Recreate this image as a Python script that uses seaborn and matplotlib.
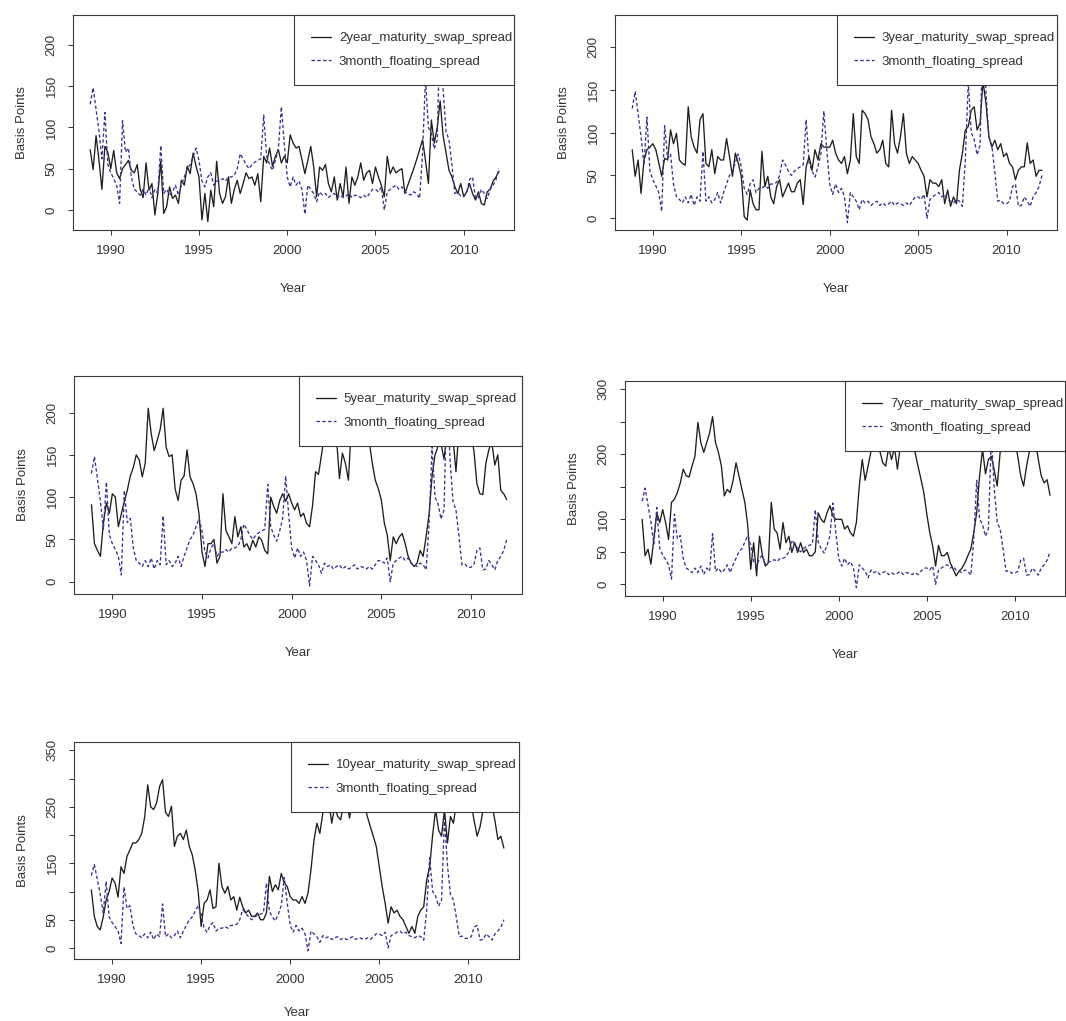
import numpy as np
import pandas as pd
import seaborn as sns
import matplotlib.pyplot as plt

# --- data: bimonthly observations, Nov 1988 .. Jan 2012 (basis points) ---
START = '1988-11-01'

floating_3m = [
    128,                                  # 1988
    148, 122, 95, 62, 118, 55,            # 1989
    45, 38, 30, 8, 108, 70,               # 1990
    75, 40, 25, 22, 18, 25,               # 1991
    18, 28, 15, 25, 20, 78,               # 1992
    20, 25, 18, 22, 30, 18,               # 1993
    30, 40, 50, 55, 65, 75,               # 1994
    60, 35, 28, 40, 45, 30,               # 1995
    35, 35, 38, 35, 40, 40,               # 1996
    42, 50, 68, 62, 55, 50,               # 1997
    55, 58, 60, 62, 115, 65,              # 1998
    55, 48, 60, 75, 125, 80,              # 1999
    40, 28, 40, 30, 35, 25,               # 2000
    -5, 30, 25, 20, 10, 22,               # 2001
    18, 20, 15, 18, 20, 15,               # 2002
    18, 15, 17, 20, 15, 18,               # 2003
    17, 15, 18, 15, 20, 25,               # 2004
    25, 22, 28, 0, 22, 25,                # 2005
    28, 30, 25, 28, 22, 20,               # 2006
    18, 22, 20, 14, 68, 160,              # 2007
    100, 92, 74, 85, 230, 146,            # 2008
    95, 85, 54, 20, 21, 17,               # 2009
    17, 20, 37, 40, 14, 15,               # 2010
    25, 20, 14, 25, 30, 37,               # 2011
    50,                                   # 2012
]

swap_2y = [
    73,
    49, 90, 60, 25, 77, 70,
    50, 72, 45, 38, 50, 55,
    60, 48, 45, 55, 25, 15,
    57, 24, 32, -6, 20, 59,
    -4, 4, 28, 14, 18, 8,
    36, 30, 53, 44, 69, 53,
    40, -12, 20, -14, 24, 4,
    59, 20, 8, 16, 40, 8,
    25, 36, 20, 32, 45, 38,
    40, 30, 44, 10, 65, 57,
    75, 53, 65, 73, 57, 65,
    57, 91, 81, 75, 77, 61,
    44, 60, 77, 52, 16, 52,
    48, 55, 32, 22, 40, 12,
    32, 16, 52, 8, 40, 30,
    40, 57, 36, 45, 48, 32,
    52, 40, 30, 16, 65, 44,
    52, 45, 48, 50, 20, 30,
    40, 50, 61, 73, 85, 60,
    32, 109, 81, 100, 132, 90,
    69, 48, 40, 28, 20, 32,
    16, 22, 32, 20, 12, 22,
    8, 6, 22, 25, 35, 40,
    47,
]

swap_3y = [
    80,
    49, 68, 29, 68, 80, 83,
    87, 80, 65, 49, 70, 68,
    103, 87, 99, 68, 64, 62,
    130, 95, 83, 76, 115, 122,
    64, 60, 80, 52, 72, 68,
    68, 93, 72, 49, 76, 64,
    49, 2, -2, 33, 17, 10,
    10, 78, 37, 49, 25, 17,
    37, 45, 25, 33, 41, 31,
    31, 41, 45, 16, 60, 72,
    56, 80, 68, 87, 83, 83,
    83, 91, 76, 68, 64, 72,
    52, 68, 122, 72, 64, 126,
    122, 115, 95, 87, 76, 80,
    91, 64, 60, 126, 87, 76,
    95, 122, 76, 64, 72, 68,
    64, 56, 49, 25, 45, 41,
    41, 37, 45, 17, 33, 14,
    25, 17, 56, 76, 103, 107,
    126, 130, 103, 111, 160, 134,
    95, 83, 91, 80, 87, 72,
    76, 64, 60, 45, 56, 60,
    60, 88, 64, 68, 49, 56,
    56,
]

swap_5y = [
    91,
    45, 37, 30, 70, 93, 81,
    104, 100, 65, 80, 95, 108,
    125, 135, 150, 144, 124, 140,
    205, 175, 155, 167, 180, 205,
    159, 148, 150, 110, 96, 120,
    125, 156, 124, 116, 104, 80,
    35, 18, 45, 45, 50, 22,
    30, 104, 61, 53, 45, 77,
    53, 65, 41, 45, 37, 49,
    41, 53, 49, 37, 33, 100,
    89, 81, 96, 104, 95, 104,
    93, 85, 93, 77, 81, 69,
    65, 90, 130, 127, 150, 175,
    185, 175, 180, 170, 122, 152,
    140, 120, 185, 180, 190, 175,
    185, 190, 165, 140, 120, 110,
    97, 70, 55, 25, 53, 45,
    53, 57, 45, 30, 22, 18,
    22, 37, 30, 53, 80, 125,
    150, 160, 163, 145, 175, 170,
    170, 130, 180, 190, 185, 175,
    175, 155, 116, 104, 103, 140,
    156, 165, 138, 150, 108, 104,
    97,
]

swap_7y = [
    100,
    44, 54, 31, 70, 110, 95,
    115, 95, 69, 126, 131, 141,
    156, 177, 167, 165, 182, 197,
    249, 218, 203, 218, 233, 258,
    218, 203, 182, 136, 146, 141,
    160, 187, 167, 146, 126, 90,
    23, 64, 13, 74, 44, 28,
    33, 126, 85, 79, 54, 95,
    64, 74, 49, 64, 49, 64,
    49, 54, 44, 44, 50, 110,
    100, 95, 110, 121, 105, 100,
    100, 100, 85, 90, 79, 74,
    95, 151, 192, 160, 182, 205,
    215, 210, 205, 187, 182, 210,
    192, 210, 177, 215, 220, 215,
    210, 220, 203, 182, 162, 141,
    108, 80, 59, 28, 60, 44,
    44, 49, 33, 23, 13, 20,
    25, 33, 44, 54, 79, 110,
    167, 208, 170, 192, 197, 175,
    151, 203, 215, 225, 220, 215,
    220, 197, 167, 151, 182, 205,
    215, 220, 192, 167, 156, 161,
    137,
]

swap_10y = [
    103,
    56, 38, 32, 55, 85, 100,
    124, 115, 90, 144, 132, 162,
    174, 186, 186, 192, 203, 233,
    289, 250, 245, 257, 286, 298,
    240, 233, 251, 180, 198, 203,
    192, 209, 180, 165, 138, 100,
    38, 79, 85, 103, 70, 73,
    150, 109, 97, 109, 85, 91,
    67, 90, 73, 62, 67, 56,
    56, 62, 50, 50, 62, 127,
    100, 112, 103, 132, 115, 109,
    91, 85, 85, 79, 91, 79,
    97, 138, 190, 221, 203, 239,
    255, 260, 221, 250, 233, 227,
    255, 260, 230, 260, 265, 255,
    260, 255, 233, 215, 198, 180,
    144, 109, 79, 44, 73, 62,
    67, 56, 50, 38, 26, 38,
    26, 56, 67, 73, 121, 144,
    200, 245, 209, 198, 245, 186,
    233, 221, 255, 265, 270, 265,
    265, 255, 225, 198, 215, 245,
    265, 270, 255, 225, 192, 198,
    177,
]

maturities = ['2year', '3year', '5year', '7year', '10year']
swap_series = [swap_2y, swap_3y, swap_5y, swap_7y, swap_10y]
x_ticks = [1990, 1995, 2000, 2005, 2010]

# --- layout (pixels in a 1066x1021 canvas), R base-graphics look ---
W, H = 1066, 1021
boxes = [  # left, top, right, bottom of each plot region
    (73, 15, 514, 230),
    (615, 15, 1057, 230),
    (74, 376, 522, 594),
    (625, 381, 1065, 596),
    (74, 742, 519, 959),
]
legend_left = [294, 837, 299, 845, 291]
xlabel_gap = [52.5, 52.5, 52.5, 52.5, 48]
ylims = [(-24.2, 236), (-13.6, 237), (-14.5, 243.2), (-18, 312.8), (-19.5, 364.8)]
yticks = [
    [0, 50, 100, 150, 200],
    [0, 50, 100, 150, 200],
    [0, 50, 100, 150, 200],
    [0, 50, 100, 150, 200, 250, 300],
    [0, 50, 100, 150, 200, 250, 300, 350],
]
ytick_labels = [
    ['0', '50', '100', '150', '200'],
    ['0', '50', '100', '150', '200'],
    ['0', '50', '100', '150', '200'],
    ['0', '50', '100', '', '200', '', '300'],
    ['0', '50', '', '150', '', '250', '', '350'],
]

BLACK = '#1e1e1e'
NAVY = '#35358f'
TEXT = '#333333'
FS = 9.5

sns.set_theme(style='ticks')
plt.rcParams['font.family'] = ['Liberation Sans', 'DejaVu Sans']

dates = pd.date_range(START, periods=len(floating_3m), freq='2MS')
years = dates.year + (dates.month - 1) / 12

fig = plt.figure(figsize=(W / 100, H / 100), dpi=100)
fig.patch.set_facecolor('white')

for i, (mat, swap) in enumerate(zip(maturities, swap_series)):
    l, t, r, b = boxes[i]
    w_px, h_px = r - l, b - t
    ax = fig.add_axes([l / W, 1 - b / H, w_px / W, h_px / H])

    df = pd.DataFrame({'year': years, 'swap': swap, 'floating': floating_3m})
    sns.lineplot(data=df, x='year', y='swap', ax=ax, color=BLACK,
                 linewidth=0.95, legend=False)
    sns.lineplot(data=df, x='year', y='floating', ax=ax, color=NAVY,
                 linewidth=0.95, linestyle=(0, (2.6, 1.8)), legend=False)

    ax.set_xlim(1987.86, 2012.85)
    ax.set_ylim(*ylims[i])
    ax.set_xticks(x_ticks)
    ax.set_xticklabels([str(v) for v in x_ticks])
    ax.set_yticks(yticks[i])
    ax.set_yticklabels(ytick_labels[i], rotation=90, va='center')

    ax.tick_params(direction='out', length=3.6, width=0.75, pad=7.5,
                   color='#3a3a3a', labelcolor=TEXT, labelsize=FS)
    for sp in ax.spines.values():
        sp.set_color('#3a3a3a')
        sp.set_linewidth(0.8)

    ax.set_xlabel('Year', fontsize=FS, color=TEXT)
    ax.set_ylabel('Basis Points', fontsize=FS, color=TEXT)
    ax.xaxis.set_label_coords(0.5, -xlabel_gap[i] / h_px)
    ax.yaxis.set_label_coords(-45 / w_px, 0.5)

    lines = ax.get_lines()[:2]
    x0 = (legend_left[i] - l) / w_px
    leg = ax.legend(handles=lines,
                    labels=[f'{mat}_maturity_swap_spread', '3month_floating_spread'],
                    loc='upper left', bbox_to_anchor=(x0, 0, 1 - x0, 1),
                    mode='expand', borderaxespad=0, frameon=True, fancybox=False,
                    framealpha=1, facecolor='white', edgecolor='#3a3a3a',
                    fontsize=FS, handlelength=1.5, handletextpad=0.6,
                    borderpad=1.3, labelspacing=0.85)
    leg.get_frame().set_linewidth(0.8)
    for txt in leg.get_texts():
        txt.set_color(TEXT)

fig.savefig('out.png', dpi=100, facecolor='white')
